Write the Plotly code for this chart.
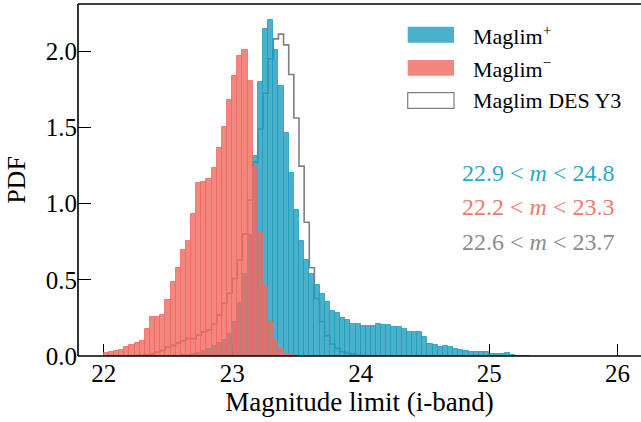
import numpy as np
import plotly.graph_objects as go

# ---------------- data (PDF per bin, bins of width 0.04 starting at 22.00) ----------------
bin_start = 22.0
bin_width = 0.04

maglim_minus = [0.018, 0.025, 0.030, 0.042, 0.060, 0.072, 0.085, 0.098, 0.175, 0.253,
                0.255, 0.268, 0.366, 0.485, 0.577, 0.695, 0.755, 0.932, 1.136, 1.143,
                1.163, 1.235, 1.366, 1.505, 1.677, 1.835, 1.972, 2.011, 1.802, 1.240,
                0.805, 0.454, 0.224, 0.097, 0.043, 0.016, 0.008, 0.003]

maglim_plus = [0, 0, 0, 0, 0, 0, 0, 0, 0, 0, 0, 0, 0, 0, 0.002,
               0.004, 0.008, 0.013, 0.022, 0.035, 0.048, 0.065, 0.085, 0.105, 0.143,
               0.220, 0.345, 0.535, 0.794, 1.310, 1.796, 2.143, 2.202, 2.007, 1.770,
               1.463, 1.200, 0.959, 0.755, 0.630, 0.537, 0.465, 0.406, 0.353, 0.295,
               0.279, 0.248, 0.239, 0.213, 0.213, 0.197, 0.197, 0.197, 0.209, 0.203,
               0.203, 0.191, 0.191, 0.178, 0.160, 0.156, 0.156, 0.125, 0.082, 0.075,
               0.062, 0.068, 0.062, 0.044, 0.042, 0.035, 0.029, 0.024, 0.024, 0.024,
               0.015, 0.011, 0.011, 0.018, 0.004, 0.003, 0.003, 0.002]

des_y3 = [0, 0, 0, 0, 0.002, 0.003, 0.004, 0.006, 0.010, 0.015,
          0.026, 0.037, 0.058, 0.070, 0.086, 0.100, 0.114, 0.114, 0.137, 0.158,
          0.170, 0.210, 0.270, 0.347, 0.412, 0.508, 0.630, 0.800, 1.024, 1.272,
          1.490, 1.724, 1.951, 2.081, 2.112, 2.042, 1.847, 1.562, 1.246, 0.878,
          0.579, 0.377, 0.226, 0.134, 0.079, 0.050, 0.028, 0.020, 0.012, 0.008,
          0.005, 0.003]

x_ticks = [22, 23, 24, 25, 26]
y_ticks = [0.0, 0.5, 1.0, 1.5, 2.0]

legend_labels = ["Maglim<sup>+</sup>", "Maglim<sup>\u2212</sup>", "Maglim DES Y3"]
range_labels = ["22.9 &lt; <i>m</i> &lt; 24.8",
                "22.2 &lt; <i>m</i> &lt; 23.3",
                "22.6 &lt; <i>m</i> &lt; 23.7"]

# ---------------- styling ----------------
TEAL = "rgba(30,158,189,0.8)"
SALMON = "rgba(240,105,95,0.8)"
GRAY = "rgba(95,95,95,0.8)"
TEAL_TXT = "#2fa7c6"
SALMON_TXT = "#f2776d"
GRAY_TXT = "#8c8c8c"
FONT = "Liberation Serif"

W, H = 641, 422
ML, MR, MT, MB = 78, 0, 4, 66


def centers(values):
    n = len(values)
    return [bin_start + bin_width * (i + 0.5) for i in range(n)]


def edges(n):
    return [bin_start + bin_width * i for i in range(n + 1)]


fig = go.Figure()

# DES Y3 step outline (below the filled histograms)
e = edges(len(des_y3))
fig.add_trace(go.Scatter(
    x=e, y=list(des_y3) + [0], mode="lines", line_shape="hv",
    line=dict(color=GRAY, width=1.6), showlegend=False, zorder=0,
    hoverinfo="skip"))

fig.add_trace(go.Bar(
    x=centers(maglim_plus), y=maglim_plus, width=bin_width,
    marker=dict(color=TEAL, line=dict(color=TEAL, width=1)),
    showlegend=False, zorder=1))

fig.add_trace(go.Bar(
    x=centers(maglim_minus), y=maglim_minus, width=bin_width,
    marker=dict(color=SALMON, line=dict(color=SALMON, width=1)),
    showlegend=False, zorder=2))


# ---------------- manual legend & annotations (pixel -> paper) ----------------
pw = W - ML - MR
ph = H - MT - MB


def px(xp):
    return (xp - ML) / pw


def py(yp):
    return (H - MB - yp) / ph


shapes = []
# spines (left, bottom, top)
for x0, y0, x1, y1 in [(0, 0, 0, 1), (0, 0, 1, 0), (0, 1, 1, 1)]:
    shapes.append(dict(type="line", xref="paper", yref="paper", x0=x0, y0=y0, x1=x1, y1=y1,
                       line=dict(color="black", width=1.6), layer="above"))

patches = [(26.7, 42.7, TEAL, TEAL), (60.0, 75.7, SALMON, SALMON),
           (92.7, 108.3, "white", GRAY)]
for y0, y1, fill, line in patches:
    shapes.append(dict(type="rect", xref="paper", yref="paper",
                       x0=px(407.7), x1=px(454.0), y0=py(y1), y1=py(y0),
                       fillcolor=fill, line=dict(color=line, width=1.2 if fill == "white" else 0)))

annotations = []
for lbl, yc in zip(legend_labels, [34.7, 68.0, 100.5]):
    annotations.append(dict(text=lbl, xref="paper", yref="paper", x=px(471), y=py(yc),
                            xanchor="left", yanchor="middle", showarrow=False,
                            font=dict(family=FONT, size=22, color="black")))

for lbl, yc, col in zip(range_labels, [173.0, 206.7, 241.7], [TEAL_TXT, SALMON_TXT, GRAY_TXT]):
    annotations.append(dict(text=lbl, xref="paper", yref="paper", x=px(616), y=py(yc),
                            xanchor="right", yanchor="middle", showarrow=False,
                            font=dict(family=FONT, size=24, color=col)))

fig.update_layout(
    width=W, height=H,
    margin=dict(l=ML, r=MR, t=MT, b=MB, pad=0),
    paper_bgcolor="white", plot_bgcolor="white",
    barmode="overlay", bargap=0,
    font=dict(family=FONT, size=25, color="black"),
    shapes=shapes, annotations=annotations,
    showlegend=False,
)

fig.update_xaxes(
    range=[21.8, 26.182], tickvals=x_ticks, ticktext=[str(v) for v in x_ticks],
    ticks="inside", ticklen=12, tickwidth=1.2, tickcolor="black",
    showline=False, showgrid=False, zeroline=False,
    tickfont=dict(family=FONT, size=25),
    title=dict(text="Magnitude limit (i-band)", font=dict(family=FONT, size=27), standoff=3),
)
fig.update_yaxes(
    range=[0, 2.31], tickvals=y_ticks, ticktext=[f"{v:.1f}" for v in y_ticks],
    ticks="inside", ticklen=13, tickwidth=1.2, tickcolor="black",
    showline=False, showgrid=False, zeroline=False,
    tickfont=dict(family=FONT, size=25),
    title=dict(text="PDF", font=dict(family=FONT, size=26), standoff=12),
)

fig.write_html("out.html",
               config={"displayModeBar": False},
               post_script="document.body.style.margin='0';document.body.style.padding='0';")
